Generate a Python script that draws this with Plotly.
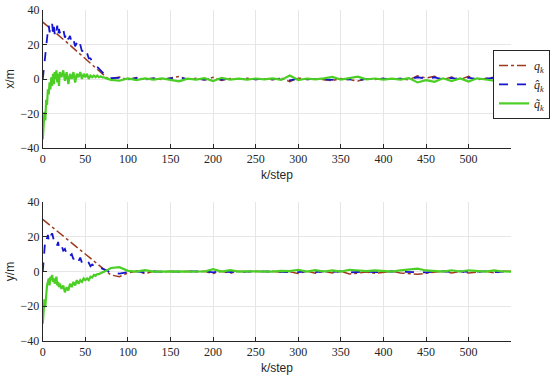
import plotly.graph_objects as go

steps = list(range(0, 21)) + list(range(22, 81, 2)) + list(range(90, 551, 10))

# ---- x coordinate (top panel) ----
q_x = [33, 32.6, 32.2, 31.8, 31.4, 31, 30.5, 30.1, 29.7, 29.3, 28.9, 28.5, 28.1, 27.7, 27.3, 26.9, 26.5, 26.1, 25.7, 25.3, 24.9,
       24.1, 23.2, 22.3, 21.4, 20.5, 19.6, 18.7, 17.8, 16.9, 16.0, 15.1, 14.2, 13.3, 12.4, 11.5, 10.6, 9.7, 8.8, 7.9, 7.0,
       6.1, 5.2, 4.3, 3.4, 2.5, 1.7, 1.0, 0.4, 0.1, 0.3,
       1.2, -0.5, 0.8, -0.3, 0.5, -0.4, 0.6, 1.5, -0.2, 0.4, -0.6, 1.0, -0.8, 0.3, -0.2, 0.4, -0.3, 0.2, -0.4, 0.5,
       -1.5, 0.6, -0.3, 0.2, -0.4, -1.0, 0.3, -0.6, -1.2, 0.2, -0.3, 0.4, -0.2, 0.3, -0.5, 1.8, 0.6, 1.6, -0.4, 1.2,
       -0.3, 1.5, -0.4, 0.3, 1.0, -0.2, 0.2]
qhat_x = [0, 5, 11, 17, 22, 26, 28, 31, 27, 30, 29, 32, 27, 31, 26, 30, 28, 31, 25, 29, 27,
          26, 29, 24, 27, 23, 25, 21, 23, 19, 21, 18, 20, 16, 17, 14, 15, 12, 12, 10, 9,
          8, 7, 6, 4.5, 3.5, 2.5, 1.5, 0.8, 0.3, 0.5,
          0.6, -0.3, 0.5, -0.2, 0.3, -0.2, 0.3, 0.9, -0.1, 0.2, -0.3, 0.6, -0.4, 0.2, -0.1, 0.2, -0.2, 0.1, -0.2, 0.3,
          -0.8, 0.3, -0.2, 0.1, -0.2, -0.5, 0.2, -0.3, -0.7, 0.1, -0.2, 0.2, -0.1, 0.2, -0.3, 1.0, 0.3, 0.9, -0.2, 0.7,
          -0.2, 0.8, -0.2, 0.2, 0.6, -0.1, 0.1]
qtil_x = [-35, -27, -19, -24, -12, -15, -6, -9, -2, -6, 1, -4, 3, -3, 4, 0, 5, -2, 3, -4, 4,
          1, 5, -1, 4, -3, 3, 0, 4, -2, 3, 1, 4, 0, 3, 1, 3, 0, 2, 1, 2,
          1, 2, 1, 1.5, 1, 1, 0.5, 0.3, 0, -0.5,
          -1.0, 0.4, -0.6, 0.3, -0.4, 0.3, -0.5, -1.4, 0.2, -0.3, 0.5, -1.2, 0.7, -0.3, 0.2, -0.4, 0.3, -0.2, 0.4, -0.5,
          2.0, -0.6, 0.3, -0.2, 0.4, 1.2, -0.3, 0.6, 1.4, -0.2, 0.3, -0.4, 0.2, -0.3, 0.5, -2.0, -0.7, -1.6, 0.4, -1.2,
          0.3, -1.5, 0.4, -0.3, -1.0, 0.2, -0.2]

# ---- y coordinate (bottom panel) ----
q_y = [30, 29.6, 29.2, 28.8, 28.4, 28, 27.6, 27.2, 26.8, 26.4, 26, 25.6, 25.2, 24.8, 24.4, 24, 23.6, 23.2, 22.8, 22.4, 22,
       21.2, 20.4, 19.6, 18.8, 18.0, 17.2, 16.4, 15.6, 14.8, 14.0, 13.2, 12.4, 11.6, 10.8, 10.0, 9.2, 8.4, 7.6, 6.8, 6.0,
       5.2, 4.4, 3.6, 2.8, 2.0, 1.2, 0.4, -0.4, -1.2, -2.0,
       -3.0, -0.8, 0.2, -1.2, 0.1, -0.2, 0.1, -0.2, 0.2, -0.1, 0.1, -1.2, 0.1, -1.0, 0.1, -0.2, 0.1, -0.1, 0.2, -0.4,
       -0.2, -1.2, 0.2, -1.0, 0.1, -0.8, 0.2, -1.4, -0.9, -0.3, -1.0, -0.3, 0.1, -0.8, -1.2, -1.6, -1.0, -0.4, 0.2, -0.8,
       0.1, -0.9, -0.2, 0.2, -0.8, 0.1, 0.2]
qhat_y = [0, 8, 15, 19, 20, 19, 21, 18, 20, 22, 21, 22, 20, 18, 19, 17, 16, 15, 17, 14, 13,
          15, 12, 13, 10, 11, 9, 10, 7, 9, 8, 6, 8, 5, 6, 5, 4, 5, 3, 4, 3,
          2.5, 3, 2, 2, 1.5, 1, 0.8, 0.5, -0.2, -1.0,
          -1.2, -0.3, 0.1, -0.6, 0.0, -0.1, 0.1, -0.1, 0.1, 0.0, 0.1, -0.5, 0.1, -0.3, 0.0, -0.1, 0.1, 0.0, 0.1, -0.2,
          0.0, -0.4, 0.1, -0.3, 0.1, -0.3, 0.1, -0.5, -0.3, -0.1, -0.4, -0.1, 0.1, -0.2, -0.4, -0.3, -0.5, -0.1, 0.1, -0.2,
          0.1, -0.3, -0.1, 0.1, -0.3, 0.0, 0.1]
qtil_y = [-30, -22, -16, -20, -12, -8, -6, -4, -8, -3, -5, -2, -6, -4, -7, -5, -3, -8, -6, -9, -7,
          -10, -8, -12, -9, -11, -7, -9, -6, -8, -5, -7, -5, -6, -4, -5, -4, -5, -3, -3.5, -2,
          -2.5, -1.5, -1.5, -0.8, -0.5, -0.2, 0.4, 1.0, 1.5, 2.0,
          2.5, 0.4, -0.1, 0.8, -0.1, 0.1, 0.0, 0.1, -0.1, 0.1, 0.0, 1.3, -0.1, 0.8, -0.1, 0.1, 0.0, 0.1, -0.1, 0.3,
          0.2, 1.0, -0.1, 0.8, 0.0, 0.6, -0.1, 1.0, 0.7, 0.2, 0.7, 0.3, -0.1, 0.7, 1.3, 1.6, 0.6, 0.3, -0.1, 0.7,
          0.0, 0.7, 0.1, -0.1, 0.6, 0.0, -0.1]

x_ticks = [0, 50, 100, 150, 200, 250, 300, 350, 400, 450, 500]
y_ticks = [-40, -20, 0, 20, 40]

names = ["<i>q<sub>k</sub></i>", "<i>q\u0302<sub>k</sub></i>", "<i>q\u0303<sub>k</sub></i>"]
colors = ["#9E3A1E", "#1515D0", "#4CCF25"]
dashes = ["dashdot", "dash", "solid"]
widths = [1.5, 1.8, 2.2]

fig = go.Figure()
for panel, (series, xa, ya) in enumerate([((q_x, qhat_x, qtil_x), "x", "y"),
                                          ((q_y, qhat_y, qtil_y), "x2", "y2")]):
    for i, s in enumerate(series):
        fig.add_trace(go.Scatter(
            x=steps, y=s, mode="lines", name=names[i],
            line=dict(color=colors[i], dash=dashes[i], width=widths[i]),
            xaxis=xa, yaxis=ya, showlegend=(panel == 0)))

axis_common = dict(
    showline=True, linecolor="#262626", linewidth=1, mirror=False,
    ticks="inside", ticklen=4, tickcolor="#262626",
    showgrid=True, gridcolor="#E6E6E6", gridwidth=1, zeroline=False,
    tickfont=dict(family="Liberation Serif", size=12, color="#262626"),
    automargin=False,
)
title_font = dict(family="Liberation Sans", size=12, color="#262626")

fig.update_layout(
    width=550, height=378,
    margin=dict(l=0, r=0, t=0, b=0),
    paper_bgcolor="white", plot_bgcolor="white",
    xaxis=dict(axis_common, domain=[0.0782, 0.9345], range=[0, 550], tickvals=x_ticks,
               anchor="y", title=dict(text="k/step", font=title_font, standoff=5)),
    yaxis=dict(axis_common, domain=[0.6085, 0.9735], range=[-40, 40], tickvals=y_ticks,
               anchor="x", title=dict(text="x/m", font=title_font, standoff=3)),
    xaxis2=dict(axis_common, domain=[0.0782, 0.9345], range=[0, 550], tickvals=x_ticks,
                anchor="y2", title=dict(text="k/step", font=title_font, standoff=5)),
    yaxis2=dict(axis_common, domain=[0.0979, 0.4656], range=[-40, 40], tickvals=y_ticks,
                anchor="x2", title=dict(text="y/m", font=title_font, standoff=3)),
    legend=dict(x=0.902, y=0.868, xanchor="left", yanchor="top",
                bgcolor="white", bordercolor="#262626", borderwidth=1,
                font=dict(family="Liberation Serif", size=12, color="#262626"),
                itemwidth=30, tracegroupgap=0),
    showlegend=True,
)

fig.write_html("out.html", config={"displayModeBar": False},
               post_script="document.body.style.margin='0';document.body.style.overflow='hidden';")
